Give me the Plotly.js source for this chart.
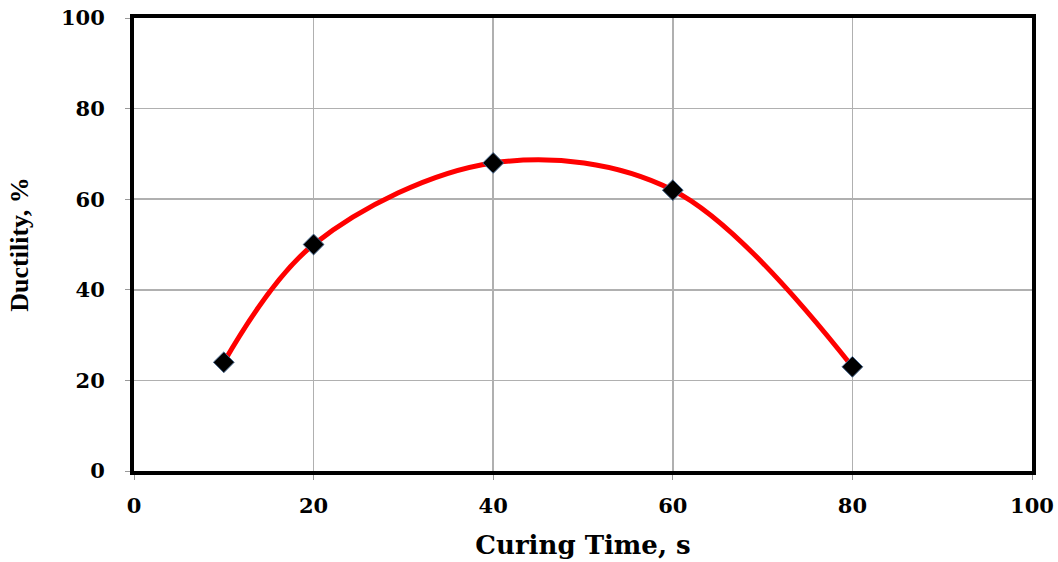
<!DOCTYPE html>
<html><head><meta charset="utf-8">
<script src="https://cdn.plot.ly/plotly-3.0.1.min.js"></script>
<style>html,body{margin:0;padding:0;background:#fff;}#chart{width:1058px;height:562px;}</style>
</head><body><div id="chart"></div>
<script>
const curingTime = [10, 20, 40, 60, 80];
const ductility = [24, 50, 68, 62, 23];
const xTicks = [0, 20, 40, 60, 80, 100];
const yTicks = [0, 20, 40, 60, 80, 100];

const wide = '"DejaVu Serif", serif';
const narrow = '"Liberation Serif", "Times New Roman", serif';

Plotly.newPlot('chart', [
  {x: curingTime, y: ductility, mode: 'lines', line: {color: '#ff0000', width: 5, shape: 'spline', smoothing: 1}, hoverinfo: 'skip', showlegend: false},
  {x: curingTime, y: ductility, mode: 'markers', marker: {symbol: 'diamond', size: 16, color: '#000', line: {color: '#4a6a90', width: 1}}, showlegend: false}
], {
  width: 1058, height: 562,
  margin: {l: 134, r: 26, t: 18, b: 91},
  paper_bgcolor: '#fff', plot_bgcolor: '#fff',
  font: {family: wide, size: 20, color: '#000'},
  xaxis: {range: [0, 100], tickvals: xTicks, ticktext: xTicks.map(String), showgrid: true, gridcolor: '#b0b0b0', gridwidth: 1.5,
    showline: true, linecolor: '#000', linewidth: 4, mirror: true, ticks: 'outside', ticklen: 5, tickcolor: '#999', tickwidth: 1,
    zeroline: false, tickfont: {family: wide, size: 21, color: '#000', weight: 'bold'}, ticklabelstandoff: 8,
    title: {text: '<b>Curing Time, s</b>', font: {family: wide, size: 26, color: '#000'}, standoff: 20}},
  yaxis: {range: [0, 100], tickvals: yTicks, ticktext: yTicks.map(String), showgrid: true, gridcolor: '#b0b0b0', gridwidth: 1.5,
    showline: true, linecolor: '#000', linewidth: 4, mirror: true, ticks: 'outside', ticklen: 5, tickcolor: '#999', tickwidth: 1,
    zeroline: false, tickfont: {family: wide, size: 21, color: '#000', weight: 'bold'}, ticklabelstandoff: 16,
    title: {text: '<b>Ductility, %</b>', font: {family: narrow, size: 26, color: '#000'}, standoff: 26}}
}, {displayModeBar: false, staticPlot: true});
</script></body></html>
